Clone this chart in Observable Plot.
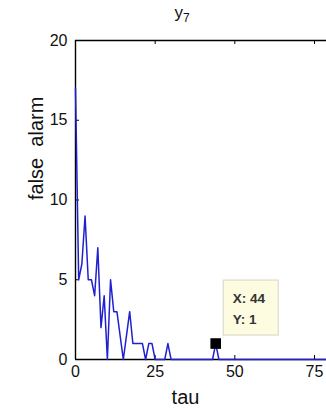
<!DOCTYPE html>
<html><head><meta charset="utf-8">
<script src="https://cdn.jsdelivr.net/npm/d3@7"></script>
<script src="https://cdn.jsdelivr.net/npm/@observablehq/plot@0.6"></script>
<style>html,body{margin:0;padding:0;background:#fff;overflow:hidden;width:326px;height:409px}</style>
</head><body><div id="chart"></div>
<script>
// data
const tau = d3.range(0, 101);
const falseAlarm = [
  17, 5, 6, 9, 5, 5, 4, 7, 2, 4,
  0, 5, 3, 3, 1.5, 0, 1.5, 3, 1, 1,
  1, 1, 0, 1, 1, 0, 0, 0, 0, 1,
  0, 0, 0, 0, 0, 0, 0, 0, 0, 0,
  0, 0, 0, 0, 1, 0, 0, 0, 0, 0,
  0, 0, 0, 0, 0, 0, 0, 0, 0, 0,
  0, 0, 0, 0, 0, 0, 0, 0, 0, 0,
  0, 0, 0, 0, 0, 0, 0, 0, 0, 0,
  0, 0, 0, 0, 0, 0, 0, 0, 0, 0,
  0, 0, 0, 0, 0, 0, 0, 0, 0, 0,
  0
];
const xTicks = [0, 25, 50, 75];
const yTicks = [0, 5, 10, 15, 20];
const xDomain = [0, 100];
const yDomain = [0, 20];
const titleMain = "y";
const titleSub = "7";
const xLabel = "tau";
const yLabel = "false  alarm";
const datatip = {x: 44, y: 1};

const series = tau.map((t, i) => ({tau: t, v: falseAlarm[i]}));

const W = 326, H = 409, mL = 75, mT = 40, mB = 50;
const pxPerUnit = (314 - 75) / 75;

const plot = Plot.plot({
  width: W, height: H,
  marginLeft: mL, marginRight: 0, marginTop: mT, marginBottom: mB,
  style: {fontFamily: "Liberation Sans, Arial, sans-serif", fontSize: "16px", background: "#fff", color: "#000"},
  x: {domain: xDomain, range: [mL, mL + 100 * pxPerUnit]},
  y: {domain: yDomain},
  marks: [
    // frame
    Plot.ruleY([yDomain[0]], {x1: xDomain[0], x2: xDomain[1], stroke: "#000", strokeWidth: 1.4}),
    Plot.ruleY([yDomain[1]], {x1: xDomain[0], x2: xDomain[1], stroke: "#000", strokeWidth: 1.4}),
    Plot.ruleX([xDomain[0]], {y1: yDomain[0], y2: yDomain[1], stroke: "#000", strokeWidth: 1.4}),
    // inward ticks
    Plot.tickX(xTicks, {x: d => d, insetTop: H - mT - mB - 4, stroke: "#000"}),
    Plot.tickX(xTicks, {x: d => d, insetBottom: H - mT - mB - 4, stroke: "#000"}),
    Plot.tickY(yTicks, {y: d => d, insetRight: W - mL - 4, stroke: "#000"}),
    // tick labels
    Plot.axisX(xTicks, {tickSize: 0, tickPadding: 6, label: null, fontSize: 16, fill: "#111"}),
    Plot.axisY(yTicks, {tickSize: 0, tickPadding: 8, label: null, fontSize: 16, fill: "#111"}),
    // series
    Plot.line(series, {x: "tau", y: "v", stroke: "#2020d0", strokeWidth: 1.5}),
    // datatip
    Plot.dot([datatip], {x: "x", y: "y", symbol: "square", r: 6, fill: "#000", stroke: null}),
    Plot.rect([datatip], {x1: "x", x2: "x", y1: "y", y2: "y", insetLeft: 8, insetRight: -63, insetTop: -63, insetBottom: 8, fill: "#fdfbe0", stroke: "#d6d4c4", strokeWidth: 1}),
    Plot.text([datatip], {x: "x", y: "y", text: d => `X: ${d.x}`, dx: 17, dy: -45, textAnchor: "start", fontSize: 13.5, fontWeight: "bold", fill: "#333"}),
    Plot.text([datatip], {x: "x", y: "y", text: d => `Y: ${d.y}`, dx: 17, dy: -24, textAnchor: "start", fontSize: 13.5, fontWeight: "bold", fill: "#333"}),
    // axis labels
    Plot.text([xLabel], {frameAnchor: "bottom", dx: 185 - (mL + W) / 2, dy: 44, fontSize: 20, fill: "#111"}),
    Plot.text([yLabel], {frameAnchor: "left", dx: 36 - mL, dy: 0, rotate: -90, fontSize: 20, fill: "#111"})
  ]
});
plot.style.overflow = "hidden";
const svg = d3.select(plot);
svg.selectAll("text").attr("xml:space", "preserve").style("white-space", "pre");
const t = svg.append("text")
  .attr("x", 182).attr("y", 18)
  .attr("text-anchor", "middle")
  .attr("font-family", "Liberation Sans, Arial, sans-serif")
  .attr("font-size", 17).attr("fill", "#111");
t.append("tspan").text(titleMain);
t.append("tspan").attr("font-size", 12).attr("dy", 4).text(titleSub);
document.getElementById("chart").appendChild(plot);
</script>
</body></html>
